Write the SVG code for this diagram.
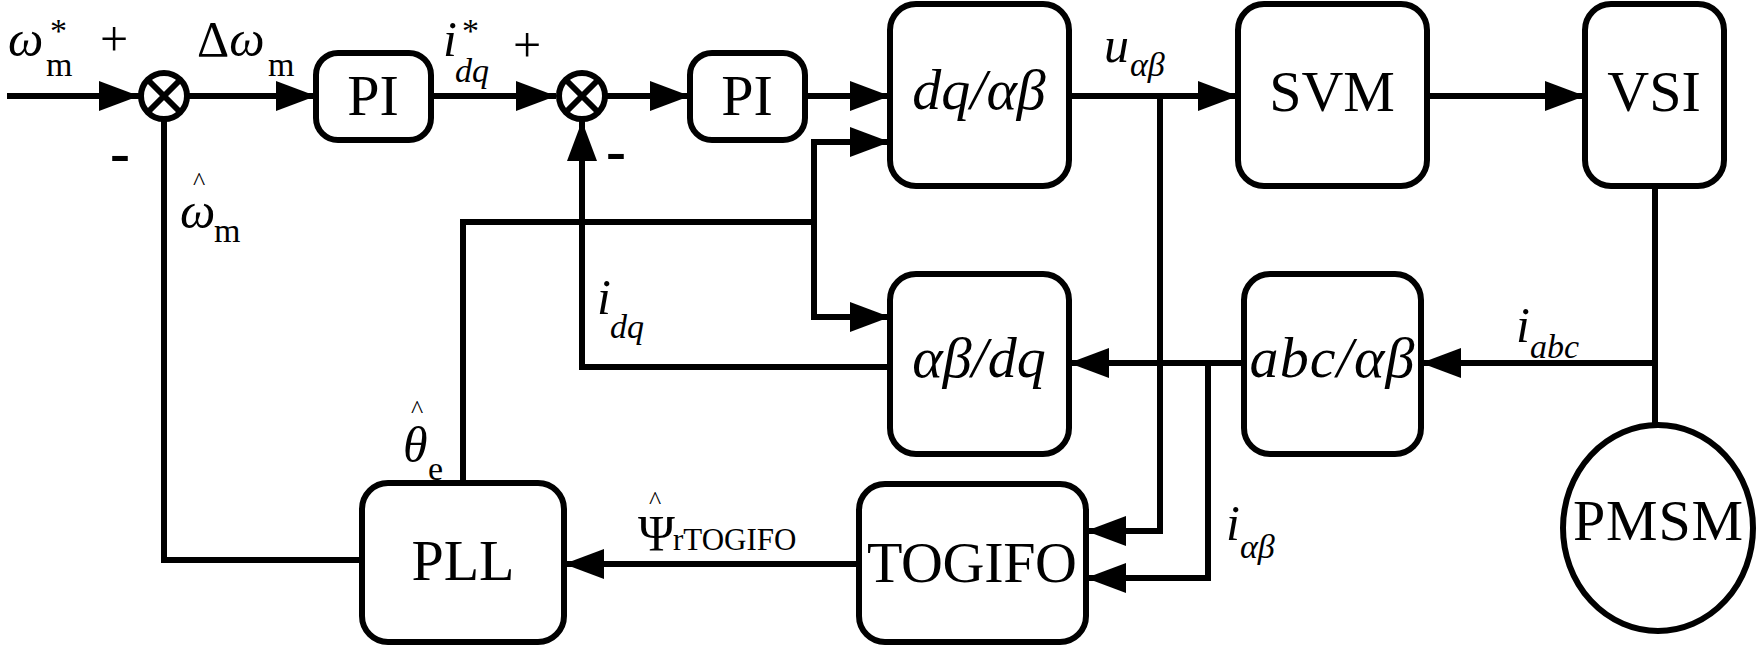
<svg xmlns="http://www.w3.org/2000/svg" width="1757" height="646" viewBox="0 0 1757 646">
<style>
.b{fill:#fff;stroke:#000;stroke-width:6}
.l{fill:none;stroke:#000;stroke-width:6}
text{font-family:"Liberation Serif","Times New Roman","DejaVu Serif",serif;fill:#000}
.t{font-size:58px;text-anchor:middle}
.i{font-style:italic}
.s{font-size:34px}
.lb{font-size:50px}
.m{font-size:60px;font-weight:bold}
.h{font-size:26px}
</style>
<defs>
<marker id="a" viewBox="0 0 40 30" refX="40" refY="15" markerWidth="40" markerHeight="30" markerUnits="userSpaceOnUse" orient="auto"><path d="M0 0L40 15L0 30Z"/></marker>
</defs>
<g id="connectors" class="l">
<path d="M7 96H139" marker-end="url(#a)"/>
<path d="M189 96H316" marker-end="url(#a)"/>
<path d="M431 96H556" marker-end="url(#a)"/>
<path d="M606 96H690" marker-end="url(#a)"/>
<path d="M805 96H890" marker-end="url(#a)"/>
<path d="M1069 96H1238" marker-end="url(#a)"/>
<path d="M1427 96H1585" marker-end="url(#a)"/>
<path d="M1655 186V425"/>
<path d="M1655 363H1421" marker-end="url(#a)"/>
<path d="M1244 363H1069" marker-end="url(#a)"/>
<path d="M1160 96V531H1086" marker-end="url(#a)"/>
<path d="M1208 363V578H1086" marker-end="url(#a)"/>
<path d="M859 564H564" marker-end="url(#a)"/>
<path d="M362 560H164V120"/>
<path d="M463 483V222H814"/>
<path d="M890 142H814V317H890" marker-end="url(#a)"/>
<path d="M814 142H890" marker-end="url(#a)"/>
<path d="M890 367H582V121" marker-end="url(#a)"/>
</g>
<g id="sum1"><circle class="b" cx="164" cy="96" r="23"/><path class="l" d="M148 80L180 112M180 80L148 112" stroke-width="5"/></g>
<g id="sum2"><circle class="b" cx="582" cy="96" r="23"/><path class="l" d="M566 80L598 112M598 80L566 112" stroke-width="5"/></g>
<g id="pi1"><rect class="b" x="316" y="53" width="115" height="87" rx="22"/><text class="t" x="373" y="115">PI</text></g>
<g id="pi2"><rect class="b" x="690" y="53" width="115" height="87" rx="22"/><text class="t" x="747" y="115">PI</text></g>
<g id="dqab"><rect class="b" x="890" y="4" width="179" height="182" rx="26"/><text class="t i" x="979" y="109">dq/αβ</text></g>
<g id="svm"><rect class="b" x="1238" y="4" width="189" height="182" rx="26"/><text class="t" x="1332" y="111">SVM</text></g>
<g id="vsi"><rect class="b" x="1585" y="4" width="139" height="182" rx="26"/><text class="t" x="1654" y="111">VSI</text></g>
<g id="abdq"><rect class="b" x="890" y="274" width="179" height="180" rx="26"/><text class="t i" x="979" y="377">αβ/dq</text></g>
<g id="abcab"><rect class="b" x="1244" y="274" width="177" height="180" rx="26"/><text class="t i" x="1332" y="377" textLength="165">abc/αβ</text></g>
<g id="pmsm"><ellipse class="b" cx="1658" cy="528" rx="95" ry="103"/><text class="t" x="1658" y="540" textLength="170">PMSM</text></g>
<g id="pll"><rect class="b" x="362" y="483" width="202" height="159" rx="26"/><text class="t" x="463" y="580">PLL</text></g>
<g id="togifo"><rect class="b" x="859" y="484" width="227" height="158" rx="26"/><text class="t" x="972" y="582" textLength="210">TOGIFO</text></g>
<g id="labels">
<text class="lb i" x="8" y="56">ω</text><text class="s" x="46" y="76">m</text><text class="s" x="50" y="42">*</text><text class="lb" x="100" y="56">+</text>
<text class="m" x="110" y="172">-</text>
<text class="lb" x="197" y="56">Δ<tspan class="i">ω</tspan></text><text class="s" x="268" y="76">m</text>
<text class="lb i" x="443" y="56">i</text><text class="s" x="462" y="42">*</text><text class="s i" x="455" y="82">dq</text><text class="lb" x="513" y="62">+</text>
<text class="m" x="606" y="170">-</text>
<text class="lb i" x="180" y="228">ω</text><text class="h" x="193" y="190">^</text><text class="s" x="214" y="242">m</text>
<text class="lb i" x="597" y="314">i</text><text class="s i" x="610" y="338">dq</text>
<text class="lb i" x="403" y="462">θ</text><text class="h" x="411" y="418">^</text><text class="s" x="428" y="480">e</text>
<text class="lb" x="638" y="550">Ψ</text><text class="h" x="649" y="509">^</text><text style="font-size:31px" x="673" y="550">rTOGIFO</text>
<text class="lb i" x="1104" y="62">u</text><text class="s i" x="1130" y="76">αβ</text>
<text class="lb i" x="1516" y="342">i</text><text class="s i" x="1530" y="358">abc</text>
<text class="lb i" x="1226" y="540">i</text><text class="s i" x="1240" y="558">αβ</text>
</g>
</svg>
